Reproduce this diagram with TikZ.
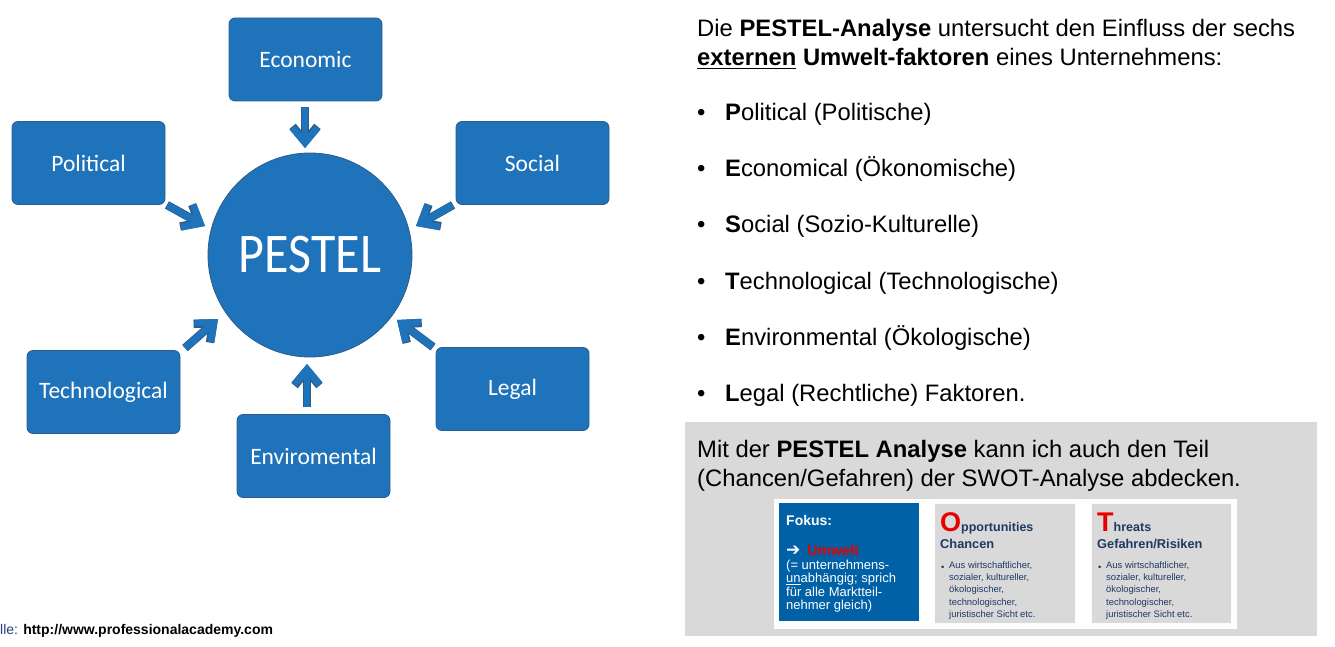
\documentclass[tikz,border=0pt]{standalone}
\usepackage{fontspec}
\setmainfont{Liberation Sans}
\newfontfamily\gillface{Carlito}
\newfontfamily\symface{DejaVu Sans}
\usetikzlibrary{arrows.meta}

\definecolor{pblue}{RGB}{31,115,186}
\definecolor{pedge}{RGB}{44,92,140}
\definecolor{sblue}{RGB}{0,97,167}
\definecolor{panel}{RGB}{217,217,217}
\definecolor{navy}{RGB}{31,56,100}
\definecolor{tred}{RGB}{232,0,0}
\definecolor{srcblue}{RGB}{40,60,130}

% thick underline
\newcommand\thickul[1]{\setbox0\hbox{#1}\rlap{\rule[-3.5pt]{\wd0}{1.8pt}}\box0\relax}

\tikzset{
  factor/.style={draw=pedge, fill=pblue, rounded corners=6pt, line width=0.8pt,
    minimum width=153pt, minimum height=83pt, text=white,
    font=\gillface\fontsize{23.5}{26}\selectfont},
  inflowedge/.style={pedge, line width=8.4pt,
    -{Straight Barb[length=15pt, width=25pt, line width=8.4pt]}},
  inflow/.style={pblue, line width=6.8pt,
    -{Straight Barb[length=15pt, width=25pt, line width=6.8pt]}},
  body/.style={anchor=base west, inner sep=0pt, font=\fontsize{23.8}{28}\selectfont},
  bul/.style={anchor=base west, inner sep=0pt, font=\fontsize{23.8}{28}\selectfont},
  small/.style={anchor=base west, inner sep=0pt, text=navy, font=\fontsize{9.4}{12.4}\selectfont},
}

\begin{document}
\begin{tikzpicture}[x=1pt, y=-1pt]
\useasboundingbox (0,0) rectangle (1335,647);

% ---- PESTEL wheel ----
\node[circle, draw=pedge, fill=pblue, line width=0.8pt, minimum size=204pt,
      text=white, font=\gillface\fontsize{50}{52}\selectfont] (pestel) at (310,255)
      {\scalebox{1}[1.12]{PESTEL}};

\node[factor] (eco) at (305.5,59.5) {Economic};
\node[factor] (pol) at (88.5,163) {Political};
\node[factor] (soc) at (532.5,163) {Social};
\node[factor] (tec) at (103.5,392) {Technological};
\node[factor] (env) at (313.5,456) {Enviromental};
\node[factor] (leg) at (512.5,389) {Legal};

% arrow ends between the factor boxes and the circle
\coordinate (ecoA) at (305,107);  \coordinate (ecoB) at (305,148);
\coordinate (polA) at (167,205);  \coordinate (polB) at (205,226);
\coordinate (socA) at (453,205);  \coordinate (socB) at (416,226);
\coordinate (tecA) at (185,348);  \coordinate (tecB) at (218,319);
\coordinate (legA) at (433,347);  \coordinate (legB) at (397,320);
\coordinate (envA) at (307,407);  \coordinate (envB) at (307,364);
\foreach \a/\b in {ecoA/ecoB, polA/polB, socA/socB, tecA/tecB, legA/legB, envA/envB}{
  \draw[inflowedge] (\a) -- (\b);
  \draw[inflow] (\a) -- (\b);
}

% source line
\node[anchor=base west, inner sep=0pt, font=\fontsize{14}{16}\selectfont] (src) at (0,634)
  {\textcolor{srcblue}{lle:} \textbf{http://www.professionalacademy.com}};

% ---- explanatory text ----
\node[body] (intro1) at (697,37) {Die \textbf{PESTEL-Analyse} untersucht den Einfluss der sechs};
\node[body] (intro2) at (697,66) {\textbf{\thickul{externen} Umwelt-faktoren} eines Unternehmens:};

\node[bul] (b1) at (697,121) {\textbullet};
\node[bul] (t1) at (725,121) {\textbf{P}olitical (Politische)};
\node[bul] (b2) at (697,177) {\textbullet};
\node[bul] (t2) at (725,177) {\textbf{E}conomical (Ökonomische)};
\node[bul] (b3) at (697,233) {\textbullet};
\node[bul] (t3) at (725,233) {\textbf{S}ocial (Sozio-Kulturelle)};
\node[bul] (b4) at (697,289) {\textbullet};
\node[bul] (t4) at (725,289) {\textbf{T}echnological (Technologische)};
\node[bul] (b5) at (697,345) {\textbullet};
\node[bul] (t5) at (725,345) {\textbf{E}nvironmental (Ökologische)};
\node[bul] (b6) at (697,401) {\textbullet};
\node[bul] (t6) at (725,401) {\textbf{L}egal (Rechtliche) Faktoren.};

% ---- grey panel ----
\path[fill=panel] (685,422) rectangle (1317,636);
\node[body] (swot1) at (697,457) {Mit der \textbf{PESTEL Analyse} kann ich auch den Teil};
\node[body] (swot2) at (697,486) {(Chancen/Gefahren) der SWOT-Analyse abdecken.};

% SWOT excerpt
\path[fill=white] (774,499) rectangle (1237,629);
\path[fill=sblue] (779,503) rectangle (919,621);
\path[fill=panel, draw=white!92!panel, line width=0.8pt] (934,503) rectangle (1075,623);
\path[fill=panel, draw=white!92!panel, line width=0.8pt] (1091,503) rectangle (1231,623);

\node[anchor=base west, inner sep=0pt, text=white, font=\bfseries\fontsize{14}{16}\selectfont] (fokus) at (786,525) {Fokus:};
\node[anchor=base west, inner sep=0pt, text=white, font=\fontsize{14.5}{16}\selectfont] (umw) at (786,555)
  {{\symface\bfseries\fontsize{17}{17}\selectfont ➔}\hspace{7pt}\textcolor{tred}{\textbf{Umwelt}}};
\node[anchor=north west, inner sep=0pt, text=white, align=left, font=\fontsize{13}{13.3}\selectfont] (umwtext) at (786,560)
  {(= unternehmens-\\\underline{un}abhängig; sprich\\für alle Marktteil-\\nehmer gleich)};

\node[anchor=base west, inner sep=0pt, font=\bfseries\fontsize{12.5}{14}\selectfont, text=navy] (opp) at (940,531)
  {\textcolor{tred}{\fontsize{27}{27}\selectfont O}pportunities};
\node[anchor=base west, inner sep=0pt, font=\bfseries\fontsize{12.8}{14}\selectfont, text=navy] (oppde) at (940,548) {Chancen};
\node[small] (ob) at (941,570) {\textbullet};
\node[small, align=left, anchor=north west] (ot) at (949,561)
  {Aus wirtschaftlicher,\\sozialer, kultureller,\\ökologischer,\\technologischer,\\juristischer Sicht etc.};

\node[anchor=base west, inner sep=0pt, font=\bfseries\fontsize{12.5}{14}\selectfont, text=navy] (thr) at (1097,531)
  {\textcolor{tred}{\fontsize{27}{27}\selectfont T}hreats};
\node[anchor=base west, inner sep=0pt, font=\bfseries\fontsize{12.8}{14}\selectfont, text=navy] (thrde) at (1097,548) {Gefahren/Risiken};
\node[small] (tb) at (1098,570) {\textbullet};
\node[small, align=left, anchor=north west] (tt) at (1106,561)
  {Aus wirtschaftlicher,\\sozialer, kultureller,\\ökologischer,\\technologischer,\\juristischer Sicht etc.};
\end{tikzpicture}
\end{document}
